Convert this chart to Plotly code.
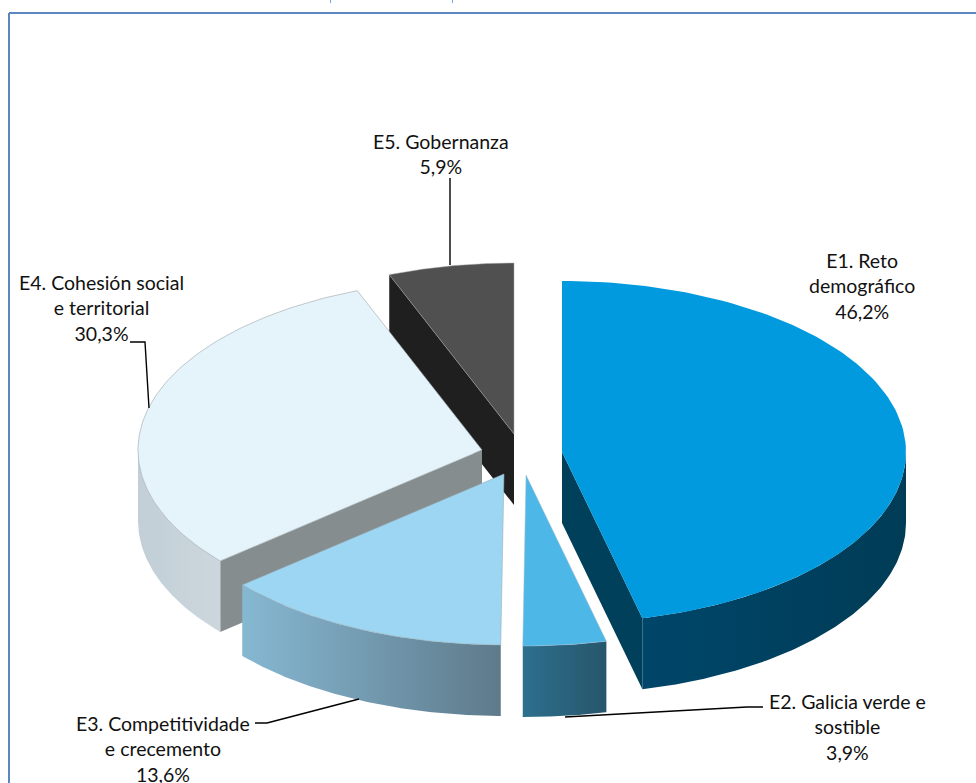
import numpy as np
import plotly.graph_objects as go

# ---- data ----
labels = ["E1. Reto<br>demográfico", "E2. Galicia verde e<br>sostible", "E3. Competitividade<br>e crecemento",
          "E4. Cohesión social<br>e territorial", "E5. Gobernanza"]
values = [46.2, 3.9, 13.6, 30.3, 5.9]

# ---- styling / layout ----
W, H = 976, 783
RX, RY, DEPTH = 344, 171, 71
# exploded wedge apex per slice (canvas units)
apex = [(562, 452), (526, 475), (504, 474), (482, 450), (514, 434)]
top_col = ["#029ade", "#4db8e8", "#9dd6f2", "#e5f4fb", "#505050"]
side_grad = [("#00466a", "#003c56"), ("#2d6f8e", "#27566b"), ("#86b8d2", "#5e7a8b"), ("#c2cfd6", "#ccd6dd"), None]
wall_col = ["#00405a", None, None, "#858d8f", "#1f1f1f"]
wall_end = [1, None, None, 0, 0]  # which cut of the slice faces the viewer
edge_col = ["rgba(0,0,0,0)", "rgba(170,190,200,.6)", "rgba(150,170,180,.7)", "rgba(160,170,175,.8)", "rgba(170,170,170,.6)"]
label_pos = [(862, 286), (847, 727), (163, 749), (101, 308), (441, 154)]
leaders = [None,
           ([565, 747, 763], [717, 707, 707]),
           ([255, 267, 359], [723, 723, 699]),
           ([130, 145, 149], [342, 342, 408]),
           ([450, 450], [178, 265])]

shares = np.array(values) / sum(values) * 360
starts = np.concatenate([[0], np.cumsum(shares)[:-1]])


def arc(i, a, b, dz=0, n=120):
    t = np.radians(np.linspace(a, b, n))
    cx, cy = apex[i]
    return cx + RX * np.sin(t), cy - RY * np.cos(t) + dz


fig = go.Figure()


def poly(x, y, color=None, grad=None, line=None, lw=0):
    tr = dict(x=list(x) + [x[0]], y=list(y) + [y[0]], mode="lines", fill="toself", hoverinfo="skip",
              showlegend=False, line=dict(width=lw, color=line or "rgba(0,0,0,0)"))
    if grad:
        tr["fillgradient"] = dict(type="horizontal", colorscale=[[0, grad[0]], [1, grad[1]]])
    else:
        tr["fillcolor"] = color
    fig.add_trace(go.Scatter(**tr))


# painter's order: back slices first
for i in [4, 3, 2, 1, 0]:
    a, b = starts[i], starts[i] + shares[i]
    cx, cy = apex[i]
    # straight cut wall that faces the viewer
    if wall_end[i] is not None:
        ang = (a, b)[wall_end[i]]
        ex, ey = arc(i, ang, ang, n=1)
        poly([cx, ex[0], ex[0], cx], [cy, ey[0], ey[0] + DEPTH, cy + DEPTH], color=wall_col[i])
    # outer rim (front half of the ellipse only)
    sa, sb = max(a, 90), min(b, 270)
    if sb > sa and side_grad[i]:
        x1, y1 = arc(i, sa, sb)
        x2, y2 = arc(i, sb, sa, dz=DEPTH)
        poly(np.r_[x1, x2], np.r_[y1, y2], grad=side_grad[i])
    # top face
    xa, ya = arc(i, a, b)
    poly(np.r_[cx, xa], np.r_[cy, ya], color=top_col[i], line=edge_col[i], lw=0.8)

# leader lines
for seg in leaders:
    if seg:
        fig.add_trace(go.Scatter(x=seg[0], y=seg[1], mode="lines", hoverinfo="skip", showlegend=False,
                                 line=dict(color="black", width=1.4)))

# labels
for lab, val, (x, y) in zip(labels, values, label_pos):
    pct = f"{val:.1f}".replace(".", ",") + "%"
    fig.add_annotation(x=x, y=y, text=lab + "<br>" + pct,
                       showarrow=False, xanchor="center", yanchor="middle", align="center",
                       font=dict(family="Lato", size=19.5, color="#111111"))

# frame
shapes = [
    dict(type="line", x0=9, y0=13, x1=W, y1=13, line=dict(color="#5b86c2", width=2)),
    dict(type="line", x0=9, y0=13, x1=9, y1=H, line=dict(color="#5b86c2", width=2)),
    dict(type="line", x0=330.5, y0=0, x1=330.5, y1=3, line=dict(color="#6fa8dc", width=1)),
    dict(type="line", x0=452.5, y0=0, x1=452.5, y1=3, line=dict(color="#6fa8dc", width=1)),
]

fig.update_layout(
    width=W, height=H, margin=dict(l=0, r=0, t=0, b=0), paper_bgcolor="white", plot_bgcolor="white",
    xaxis=dict(range=[0, W], visible=False, fixedrange=True),
    yaxis=dict(range=[H, 0], visible=False, fixedrange=True),
    shapes=shapes, showlegend=False,
)
fig.write_html("out.html", config=dict(displayModeBar=False),
               post_script="document.body.style.margin='0';document.documentElement.style.overflow='hidden';")
